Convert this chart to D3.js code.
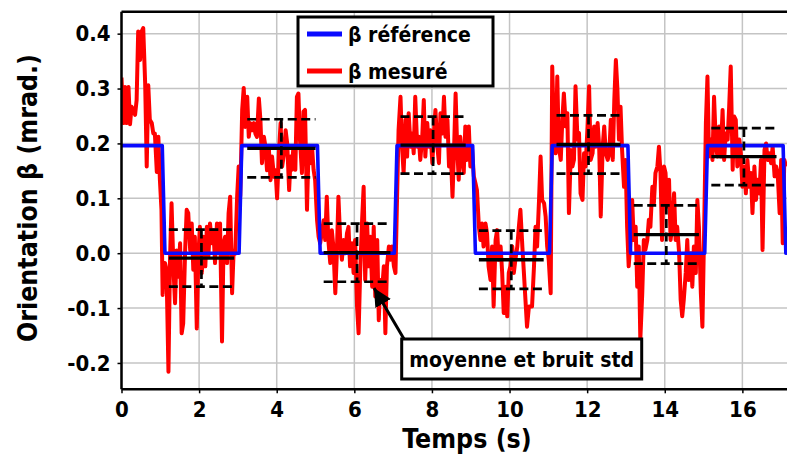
<!DOCTYPE html>
<html><head><meta charset="utf-8">
<script src="https://cdn.jsdelivr.net/npm/d3@7"></script>
<style>
body{margin:0;background:#fff;}
text{font-family:"DejaVu Sans Condensed","DejaVu Sans",sans-serif;font-stretch:condensed;font-weight:bold;fill:#000;}
</style></head>
<body><svg id="chart" width="787" height="459"></svg>
<script>
const xTicks = [0,2,4,6,8,10,12,14,16];
const yTicks = [-0.2,-0.1,0.0,0.1,0.2,0.3,0.4];
const xLabel = "Temps (s)";
const yLabel = "Orientation β (mrad.)";
const legendLabels = ["β référence","β mesuré"];
const noteText = "moyenne et bruit std";

// reference step signal (time s, value mrad)
const refTime  = [0,1.05,1.12,3.03,3.10,5.05,5.12,7.03,7.10,9.05,9.12,11.03,11.10,13.05,13.12,15.03,15.10,17.05,17.12];
const refValue = [0.196,0.196,0,0,0.196,0.196,0,0,0.196,0.196,0,0,0.196,0.196,0,0,0.196,0.196,0];

// measured signal [time, value]
const measured = [
[0.00,0.32],[0.05,0.237],[0.09,0.303],[0.13,0.237],[0.18,0.303],[0.22,0.235],[0.26,0.267],[0.31,0.261],[0.35,0.252],[0.39,0.279],
[0.43,0.404],[0.48,0.352],[0.52,0.404],[0.56,0.41],[0.61,0.309],[0.65,0.158],[0.69,0.306],[0.73,0.243],[0.78,0.237],[0.82,0.218],
[0.86,0.218],[0.91,0.148],[0.95,0.212],[0.99,0.133],[1.03,0.079],[1.06,-0.076],[1.09,-0.018],[1.12,-0.018],[1.16,-0.03],[1.21,-0.216],
[1.25,-0.012],[1.29,0.091],[1.34,-0.03],[1.38,-0.091],[1.42,0.005],[1.46,-0.043],[1.51,0.018],[1.55,-0.146],[1.59,-0.128],[1.64,0.005],
[1.68,0.079],[1.72,0.073],[1.77,0.005],[1.81,0.054],[1.85,-0.03],[1.89,0.030],[1.94,-0.137],[1.98,-0.006],[2.02,0.048],[2.07,-0.036],
[2.11,0.030],[2.16,-0.024],[2.20,0.048],[2.24,-0.006],[2.28,0.054],[2.33,0.018],[2.37,0.042],[2.41,-0.018],[2.46,0.054],[2.50,0.005],
[2.54,0.054],[2.59,-0.161],[2.63,0.018],[2.67,0.030],[2.72,-0.018],[2.76,0.073],[2.80,0.103],[2.85,-0.073],[2.89,0.005],[2.93,-0.001],
[2.98,0.103],[3.02,0.158],[3.06,0.103],[3.11,0.261],[3.15,0.301],[3.19,0.230],[3.24,0.285],[3.28,0.212],[3.32,0.237],[3.37,0.224],
[3.41,0.237],[3.45,0.218],[3.49,0.212],[3.54,0.282],[3.58,0.243],[3.62,0.164],[3.67,0.212],[3.71,0.194],[3.75,0.151],[3.80,0.188],
[3.84,0.133],[3.88,0.176],[3.93,0.139],[3.97,0.151],[4.01,0.1],[4.06,0.188],[4.10,0.237],[4.14,0.158],[4.19,0.182],[4.23,0.224],
[4.27,0.2],[4.32,0.115],[4.36,0.176],
[4.39,0.152],[4.43,0.194],[4.48,0.152],[4.52,0.285],[4.56,0.291],[4.60,0.206],[4.65,0.146],[4.69,0.258],[4.73,0.261],[4.78,0.079],
[4.82,0.188],[4.86,0.164],[4.91,0.194],[4.95,0.152],[4.99,0.133],[5.04,0.06],[5.08,0.03],[5.12,0.018],[5.16,0.036],[5.21,0.06],
[5.25,0.024],[5.29,0.103],[5.33,0.024],[5.38,-0.018],[5.42,0.042],[5.46,0.012],[5.51,-0.073],[5.55,0.0],[5.59,0.103],[5.64,0.018],
[5.68,-0.012],[5.72,0.024],[5.77,0.0],[5.81,0.036],[5.85,0.048],[5.89,-0.024],[5.94,0.018],[5.98,-0.036],[6.02,0.024],[6.07,-0.097],
[6.11,-0.146],[6.15,-0.036],[6.20,0.06],[6.24,0.121],[6.28,-0.049],[6.33,0.054],[6.37,-0.024],[6.41,0.03],[6.46,-0.061],[6.50,0.048],
[6.54,-0.079],[6.59,0.024],[6.63,-0.122],[6.67,-0.049],[6.71,-0.073],[6.76,-0.024],[6.80,-0.146],[6.84,-0.024],[6.89,0.012],[6.93,-0.012],
[6.97,0.012],[7.02,-0.024],[7.06,-0.036],[7.10,0.097],[7.14,0.224],[7.19,0.285],[7.23,0.194],[7.27,0.146],[7.32,0.243],[7.36,0.176],
[7.40,0.255],[7.45,0.194],[7.49,0.218],[7.53,0.182],[7.57,0.285],[7.62,0.194],[7.66,0.212],[7.70,0.170],[7.75,0.212],[7.79,0.279],
[7.83,0.176],[7.88,0.237],[7.92,0.194],[7.96,0.224],[8.01,0.164],[8.05,0.218],[8.09,0.261],[8.14,0.194],[8.18,0.164],[8.22,0.255],
[8.27,0.218],[8.31,0.285],[8.35,0.212],[8.40,0.243],[8.44,0.158],[8.48,0.194],[8.53,0.103],[8.57,0.188],[8.61,0.291],
[8.65,0.194],[8.69,0.134],[8.73,0.212],[8.78,0.170],[8.82,0.146],[8.86,0.231],[8.90,0.170],[8.95,0.231],[8.99,0.158],[9.03,0.194],
[9.08,0.140],[9.12,0.128],[9.16,0.115],[9.21,0.048],[9.25,0.024],[9.29,0.054],[9.33,0.012],[9.38,0.054],[9.42,0.036],[9.46,-0.024],
[9.51,-0.049],[9.55,0.012],[9.59,-0.097],[9.64,0.024],[9.68,0.042],[9.72,-0.012],[9.77,0.012],[9.81,-0.036],[9.85,-0.109],[9.90,-0.061],
[9.94,-0.115],[9.98,-0.036],[10.02,-0.024],[10.07,0.012],[10.11,-0.036],[10.15,-0.012],[10.20,0.012],[10.24,0.048],[10.28,0.079],[10.33,0.012],
[10.37,-0.036],[10.41,-0.085],[10.45,-0.134],[10.50,-0.097],[10.54,-0.097],[10.58,-0.097],[10.63,-0.024],[10.67,0.048],[10.71,0.012],[10.76,0.097],
[10.80,0.176],[10.84,0.097],[10.89,0.091],[10.93,0.067],[10.97,0.012],[11.01,-0.012],[11.06,-0.073],[11.10,0.340],[11.14,0.231],[11.19,0.182],
[11.23,0.322],[11.27,0.194],[11.32,0.170],[11.36,0.243],[11.40,0.291],[11.45,0.231],[11.49,0.255],[11.53,0.073],[11.58,0.188],[11.62,0.158],
[11.66,0.170],[11.70,0.304],[11.75,0.207],[11.79,0.219],[11.83,0.109],[11.88,0.097],[11.92,0.182],[11.96,0.158],[12.01,0.231],[12.05,0.304],
[12.09,0.170],[12.14,0.182],[12.18,0.231],[12.22,0.194],[12.27,0.237],[12.31,0.194],[12.35,0.067],[12.40,0.194],[12.44,0.231],[12.48,0.182],
[12.53,0.170],[12.57,0.182],[12.61,0.243],[12.66,0.170],[12.70,0.280],[12.74,0.352],
[12.78,0.298],[12.82,0.207],[12.86,0.267],[12.90,0.188],[12.95,0.121],[12.99,0.170],[13.03,0.048],[13.07,-0.024],[13.12,0.024],[13.16,0.097],
[13.20,0.024],[13.25,0.048],[13.29,-0.061],[13.33,0.012],[13.37,-0.158],[13.42,-0.073],[13.46,0.024],[13.50,0.006],[13.55,0.024],[13.59,0.061],
[13.63,0.048],[13.68,0.121],[13.72,0.091],[13.76,0.146],[13.81,0.158],[13.85,0.194],[13.89,0.146],[13.93,0.024],[13.98,0.158],[14.02,0.146],
[14.06,0.085],[14.11,0.134],[14.15,0.024],[14.19,0.048],[14.24,0.109],[14.28,0.024],[14.32,0.048],[14.37,0.0],[14.41,-0.085],[14.45,-0.115],
[14.49,-0.085],[14.54,-0.036],[14.58,0.024],[14.62,-0.049],[14.67,0.0],[14.71,-0.061],[14.75,0.012],[14.80,-0.036],[14.84,0.097],[14.88,0.048],
[14.93,-0.073],[14.97,-0.134],[15.01,0.024],[15.06,0.237],[15.10,0.322],[15.14,0.176],[15.19,0.207],[15.23,0.170],[15.27,0.285],[15.32,0.194],
[15.36,0.176],[15.40,0.231],[15.44,0.176],[15.49,0.261],[15.53,0.170],[15.57,0.218],[15.62,0.207],[15.66,0.267],[15.70,0.340],[15.75,0.152],
[15.79,0.249],[15.83,0.243],[15.87,0.158],[15.92,0.207],[15.96,0.182],[16.00,0.121],[16.05,0.158],[16.09,0.109],[16.13,0.170],[16.18,0.121],
[16.22,0.146],[16.26,0.073],[16.31,0.158],[16.35,0.097],[16.39,0.134],[16.44,0.109],[16.48,0.170],[16.52,0.006],[16.57,0.188],[16.61,0.200],
[16.65,0.170],[16.70,0.182],[16.74,0.164],[16.78,0.194],[16.83,0.140],[16.87,0.158],[16.91,0.146],[16.96,0.073],[17.00,0.170],[17.04,0.018],
[17.08,0.170],[17.13,0.158]
];

// mean and std per plateau
const segStart = [1.22,3.24,5.21,7.19,9.21,11.21,13.20,15.20];
const segEnd   = [2.90,5.00,6.93,8.87,10.88,12.86,14.88,16.88];
const segMean  = [-0.009,0.191,0.001,0.197,-0.012,0.198,0.034,0.176];
const segStd   = [0.052,0.053,0.053,0.052,0.053,0.053,0.053,0.052];

const svg = d3.select("#chart");
const L = 121.5, R = 787, T = 11.7, B = 389.3;
const x = d3.scaleLinear().domain([0,17.15]).range([L,R]);
const y = d3.scaleLinear().domain([-0.248,0.44]).range([B,T]);

// grid
const grid = svg.append("g");
grid.selectAll("line.vx").data(xTicks).join("line")
  .attr("x1",d=>x(d)).attr("x2",d=>x(d)).attr("y1",T).attr("y2",B)
  .attr("stroke","#c4c4c4").attr("stroke-width",1.5);
grid.selectAll("line.hy").data(yTicks).join("line")
  .attr("x1",L).attr("x2",R).attr("y1",d=>y(d)).attr("y2",d=>y(d))
  .attr("stroke","#c4c4c4").attr("stroke-width",1.5);

svg.append("clipPath").attr("id","pc").append("rect")
  .attr("x",L).attr("y",T).attr("width",R-L).attr("height",B-T);
const plot = svg.append("g").attr("clip-path","url(#pc)");

// measured
plot.append("path").datum(measured)
  .attr("d",d3.line().x(d=>x(d[0])).y(d=>y(d[1])))
  .attr("fill","none").attr("stroke","#ff0000").attr("stroke-width",4)
  .attr("stroke-linejoin","round");

// reference
const refData = refTime.map((t,i)=>[t,refValue[i]]);
plot.append("path").datum(refData)
  .attr("d",d3.line().x(d=>x(d[0])).y(d=>y(d[1])))
  .attr("fill","none").attr("stroke","#0a0aff").attr("stroke-width",3.6)
  .attr("stroke-linejoin","round").attr("stroke-linecap","round");

// mean / std markers
const seg = segStart.map((s,i)=>({s,e:segEnd[i],m:segMean[i],sd:segStd[i]}));
const mk = plot.append("g");
mk.selectAll("line.mean").data(seg).join("line")
  .attr("x1",d=>x(d.s)).attr("x2",d=>x(d.e)).attr("y1",d=>y(d.m)).attr("y2",d=>y(d.m))
  .attr("stroke","#000").attr("stroke-width",3.3);
["up","dn"].forEach(k=>{
  mk.selectAll("line."+k).data(seg).join("line")
    .attr("x1",d=>x(d.s)).attr("x2",d=>x(d.e))
    .attr("y1",d=>y(k==="up"?d.m+d.sd:d.m-d.sd)).attr("y2",d=>y(k==="up"?d.m+d.sd:d.m-d.sd))
    .attr("stroke","#000").attr("stroke-width",2.7).attr("stroke-dasharray","9,4.5");
});
mk.selectAll("line.vert").data(seg).join("line")
  .attr("x1",d=>x((d.s+d.e)/2)).attr("x2",d=>x((d.s+d.e)/2))
  .attr("y1",d=>y(d.m+d.sd)).attr("y2",d=>y(d.m-d.sd))
  .attr("stroke","#000").attr("stroke-width",2.7).attr("stroke-dasharray","9,4.5");

// frame
svg.append("line").attr("x1",L).attr("x2",R).attr("y1",T).attr("y2",T).attr("stroke","#000").attr("stroke-width",2.5);

// axes
const fmt = d=>d3.format(".1f")(d).replace("−","-");
const yAxis = svg.append("g").attr("transform",`translate(${L},0)`)
  .call(d3.axisLeft(y).tickValues(yTicks).tickFormat(fmt).tickSize(4).tickPadding(7));
const xAxis = svg.append("g").attr("transform",`translate(0,${B})`)
  .call(d3.axisBottom(x).tickValues(xTicks).tickSize(4).tickPadding(8));
[yAxis,xAxis].forEach(a=>{
  a.select(".domain").attr("stroke","#000").attr("stroke-width",2.5);
  a.selectAll(".tick line").attr("stroke","#000").attr("stroke-width",1.5);
  a.selectAll(".tick text").style("font-size","22px").attr("fill","#000")
   .style("font-family",'"DejaVu Sans Condensed","DejaVu Sans",sans-serif').style("font-weight","bold");
});
yAxis.select(".domain").attr("d",`M-0,${B}V${T}`);
xAxis.select(".domain").attr("d",`M${L},0H${R}`);

// axis labels
svg.append("text").attr("x",467).attr("y",448).attr("text-anchor","middle")
  .style("font-size","26.5px").text(xLabel);
svg.append("text").attr("transform","translate(37,198) rotate(-90)").attr("text-anchor","middle")
  .style("font-size","26.5px").text(yLabel);

// legend
const lg = svg.append("g");
lg.append("rect").attr("x",298).attr("y",17).attr("width",195).attr("height",69)
  .attr("fill","#fff").attr("stroke","#000").attr("stroke-width",3);
const legColors = ["#0a0aff","#ff0000"];
legendLabels.forEach((lab,i)=>{
  const yy = 34 + i*37;
  lg.append("line").attr("x1",307).attr("x2",342).attr("y1",yy).attr("y2",yy)
    .attr("stroke",legColors[i]).attr("stroke-width",5);
  lg.append("text").attr("x",348).attr("y",yy+8).style("font-size","21px").text(lab);
});

// annotation
svg.append("defs").append("marker").attr("id","ah").attr("viewBox","0 0 10 10")
  .attr("refX",10).attr("refY",5).attr("markerWidth",6).attr("markerHeight",6)
  .attr("markerUnits","strokeWidth").attr("orient","auto")
  .append("path").attr("d","M0,0L10,5L0,10z").attr("fill","#000");
svg.append("line").attr("x1",404).attr("y1",339).attr("x2",374).attr("y2",288)
  .attr("stroke","#000").attr("stroke-width",3).attr("marker-end","url(#ah)");
svg.append("rect").attr("x",401.7).attr("y",339).attr("width",240).attr("height",40)
  .attr("fill","#fff").attr("stroke","#000").attr("stroke-width",3);
svg.append("text").attr("x",521.7).attr("y",366.5).attr("text-anchor","middle")
  .style("font-size","21px").text(noteText);
</script></body></html>
